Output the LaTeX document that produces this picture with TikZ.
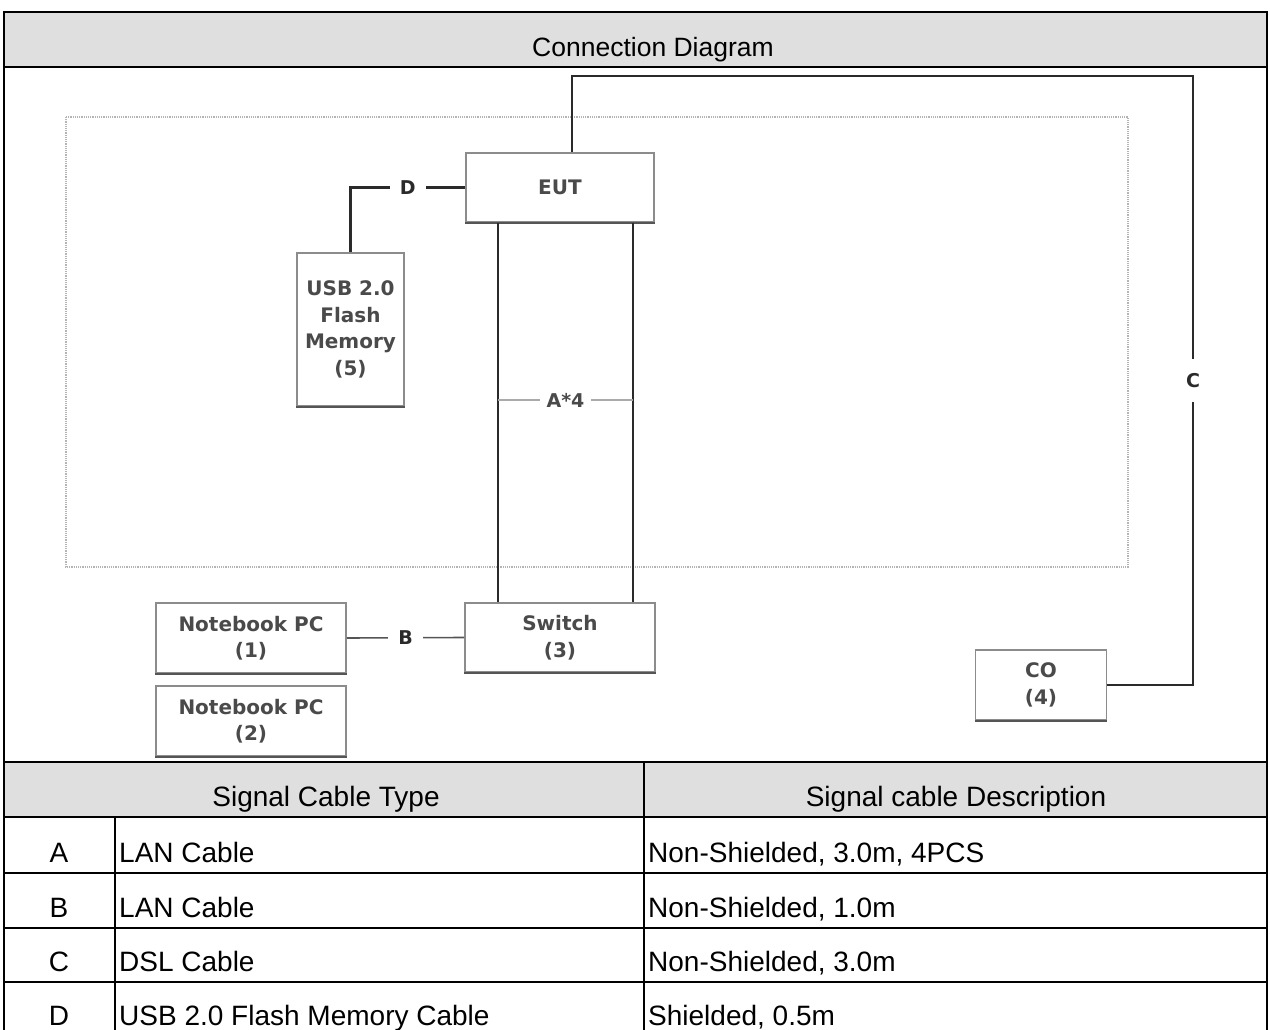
\documentclass[tikz,border=0pt]{standalone}
\usepackage{fontspec}
\setmainfont{Liberation Sans}
\newfontfamily\boxfont{DejaVu Sans}
\usetikzlibrary{calc}
\definecolor{hdrgray}{HTML}{DFDFDF}
\definecolor{boxgray}{HTML}{8C8C8C}
\definecolor{boxdark}{HTML}{555555}
\definecolor{boxtext}{HTML}{4A4A4A}
\definecolor{wire}{HTML}{2A2A2A}
\definecolor{dotgray}{HTML}{B4B4B4}
\definecolor{thingray}{HTML}{AAAAAA}
\tikzset{
  frameline/.style={line width=2.5pt, black},
  devbox/.style={draw=boxgray, line width=1.8pt, fill=white, inner sep=0pt, align=center,
    font=\boxfont\bfseries\fontsize{20}{26.5}\selectfont, text=boxtext},
  wirelbl/.style={fill=white, inner xsep=10pt, inner ysep=14pt,
    font=\boxfont\bfseries\fontsize{19}{22}\selectfont, text=wire},
  wireline/.style={line width=2.2pt, wire},
  cell/.style={font=\fontsize{28}{32}\selectfont, inner sep=0pt},
}
\begin{document}
\begin{tikzpicture}[x=1pt,y=-1pt]
\useasboundingbox (0,0) rectangle (1270,1030);
% header band and table header band
\fill[hdrgray] (4,12) rectangle (1267,67);
\fill[hdrgray] (4,762) rectangle (1267,817);
% frame and table lines
\draw[frameline] (4,1040) -- (4,12) -- (1267,12) -- (1267,1040);
\foreach \yy in {67,762,817,873,928,982} \draw[frameline] (4,\yy) -- (1267,\yy);
\draw[frameline] (644,762) -- (644,1040);
\draw[frameline] (115,817) -- (115,1040);
% texts of frame and table
\node[cell, anchor=base, font=\fontsize{26.5}{30}\selectfont] (title) at (653,57) {Connection Diagram};
\node[cell, anchor=base] (th1) at (326,806) {Signal Cable Type};
\node[cell, anchor=base] (th2) at (956,806) {Signal cable Description};
\node[cell, anchor=base] (ra) at (59,862) {A};
\node[cell, anchor=base west] (ta) at (119,862) {LAN Cable};
\node[cell, anchor=base west] (da) at (648,862) {Non-Shielded, 3.0m, 4PCS};
\node[cell, anchor=base] (rb) at (59,917) {B};
\node[cell, anchor=base west] (tb) at (119,917) {LAN Cable};
\node[cell, anchor=base west] (db) at (648,917) {Non-Shielded, 1.0m};
\node[cell, anchor=base] (rc) at (59,971) {C};
\node[cell, anchor=base west] (tc) at (119,971) {DSL Cable};
\node[cell, anchor=base west] (dc) at (648,971) {Non-Shielded, 3.0m};
\node[cell, anchor=base] (rd) at (59,1025) {D};
\node[cell, anchor=base west] (td) at (119,1025) {USB 2.0 Flash Memory Cable};
\node[cell, anchor=base west] (dd) at (648,1025) {Shielded, 0.5m};
% dotted table area
\draw[dotgray, line width=1.2pt, densely dotted] (66,117) rectangle (1128,567);
% devices
\node[devbox, minimum width=188pt, minimum height=69pt] (eut) at (560,187.5) {EUT};
\node[devbox, minimum width=107pt, minimum height=153pt] (usb) at (350.5,329.5) {USB 2.0\\Flash\\Memory\\(5)};
\node[devbox, minimum width=190pt, minimum height=69pt] (sw) at (560,637.5) {Switch\\(3)};
\node[devbox, minimum width=190pt, minimum height=70pt] (nb1) at (251,638) {Notebook PC\\(1)};
\node[devbox, minimum width=190pt, minimum height=70pt] (nb2) at (251,721) {Notebook PC\\(2)};
\node[devbox, minimum width=131pt, minimum height=70pt] (co) at (1041,685) {CO\\(4)};
\foreach \n in {eut,usb,sw,nb1,nb2,co}
  \draw[boxdark, line width=1.8pt] (\n.south west) -- (\n.south east);
% connectors
\draw[wireline] (eut.west) -- node[wirelbl]{D} (usb.north |- eut.west) -- (usb.north);
\draw[wireline, boxdark, line width=1.6pt] (nb1.east) -- node[wirelbl]{B} (sw.west);
\coordinate (ctop) at (1193,76);
\coordinate (cbot) at (1193,685);
\draw[wireline, line width=2.6pt] ([xshift=12pt]eut.north) |- (ctop) -- node[wirelbl]{C} (cbot) -- (co.east);
\draw[wireline] ([xshift=-62pt]eut.south) -- ([xshift=-62pt]sw.north);
\draw[wireline] ([xshift=73pt]eut.south) -- ([xshift=73pt]sw.north);
\coordinate (am1) at (498,400);
\coordinate (am2) at (633,400);
\draw[thingray, line width=1.2pt] (am1) -- node[wirelbl, inner xsep=7pt, text=boxtext]{A*4} (am2);
\end{tikzpicture}
\end{document}
